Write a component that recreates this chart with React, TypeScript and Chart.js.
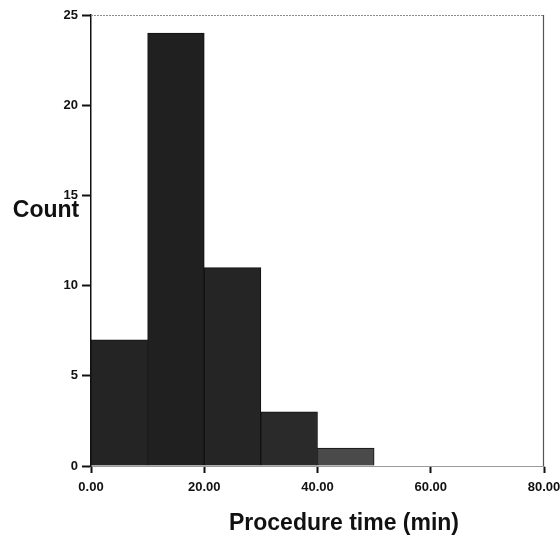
import React, { useEffect, useRef } from "react";
import { Chart, registerables } from "chart.js";

Chart.register(...registerables);

// Histogram bins (minutes) and counts
const binStarts = [0, 10, 20, 30, 40];
const binWidth = 10;
const counts = [7, 24, 11, 3, 1];
const xTicks = [0, 20, 40, 60, 80];
const yTicks = [0, 5, 10, 15, 20, 25];
const xTitle = "Procedure time (min)";
const yTitle = "Count";
const barColors = ["#242424", "#202020", "#252525", "#2a2a2a", "#4a4a4a"];

const FONT = "'Liberation Sans', Arial, Helvetica, sans-serif";

const framePlugin = {
  id: "frameAndTitles",
  afterDraw(chart: any) {
    const { ctx, chartArea } = chart;
    const { left, right, top, bottom } = chartArea;
    ctx.save();
    // top dotted border
    ctx.strokeStyle = "#8a8a8a";
    ctx.lineWidth = 1;
    ctx.setLineDash([2, 1]);
    ctx.beginPath();
    ctx.moveTo(left, top + 0.5);
    ctx.lineTo(right, top + 0.5);
    ctx.stroke();
    // right border
    ctx.setLineDash([]);
    ctx.strokeStyle = "#555";
    ctx.lineWidth = 1.2;
    ctx.beginPath();
    ctx.moveTo(right - 0.5, top);
    ctx.lineTo(right - 0.5, bottom);
    ctx.stroke();
    // titles
    ctx.fillStyle = "#111";
    ctx.textBaseline = "alphabetic";
    ctx.textAlign = "center";
    ctx.font = `bold 23px ${FONT}`;
    ctx.fillText(yTitle, 46, 217);
    ctx.font = `bold 23px ${FONT}`;
    ctx.fillText(xTitle, 344, 530);
    ctx.restore();
  },
};

export default function App() {
  const ref = useRef<HTMLCanvasElement | null>(null);

  useEffect(() => {
    if (!ref.current) return;
    const chart = new Chart(ref.current, {
      type: "bar",
      data: {
        datasets: [
          {
            data: binStarts.map((s, i) => ({ x: s + binWidth / 2, y: counts[i] })),
            backgroundColor: barColors,
            borderColor: "#111",
            borderWidth: 1,
            barPercentage: 1,
            categoryPercentage: 1,
          } as any,
        ],
      },
      options: {
        animation: false,
        responsive: false,
        layout: { padding: { left: 0, right: 16, top: 15, bottom: 0 } },
        plugins: {
          legend: { display: false },
          tooltip: { enabled: false },
          title: { display: false },
        },
        scales: {
          x: {
            type: "linear",
            min: xTicks[0],
            max: xTicks[xTicks.length - 1],
            offset: false,
            afterFit(scale: any) {
              scale.height = 71;
              scale.paddingLeft = 0;
              scale.paddingRight = 0;
            },
            afterBuildTicks(scale: any) {
              scale.ticks = xTicks.map((v) => ({ value: v }));
            },
            grid: {
              offset: false,
              drawOnChartArea: false,
              drawTicks: true,
              tickLength: 7,
              tickWidth: 2,
              tickColor: "#111",
            },
            border: { display: true, color: "#9a9a9a", width: 1, dash: [2, 1] },
            ticks: {
              color: "#111",
              padding: 7,
              maxRotation: 0,
              font: { family: FONT, size: 13, weight: "bold" },
              callback: (v: any) => Number(v).toFixed(2),
            },
          },
          y: {
            type: "linear",
            min: yTicks[0],
            max: yTicks[yTicks.length - 1],
            afterFit(scale: any) {
              scale.width = 91;
              scale.paddingTop = 0;
              scale.paddingBottom = 0;
            },
            afterBuildTicks(scale: any) {
              scale.ticks = yTicks.map((v) => ({ value: v }));
            },
            grid: {
              drawOnChartArea: false,
              drawTicks: true,
              tickLength: 9,
              tickWidth: 2,
              tickColor: "#111",
            },
            border: { display: true, color: "#111", width: 1.5 },
            ticks: {
              color: "#111",
              padding: 4,
              font: { family: FONT, size: 13, weight: "bold" },
              callback: (v: any) => String(v),
            },
          },
        },
      },
      plugins: [framePlugin],
    });
    return () => chart.destroy();
  }, []);

  return (
    <div style={{ position: "absolute", left: 0, top: 0, width: 560, height: 537, background: "#fff" }}>
      <canvas ref={ref} width={560} height={537} style={{ display: "block" }} />
    </div>
  );
}
